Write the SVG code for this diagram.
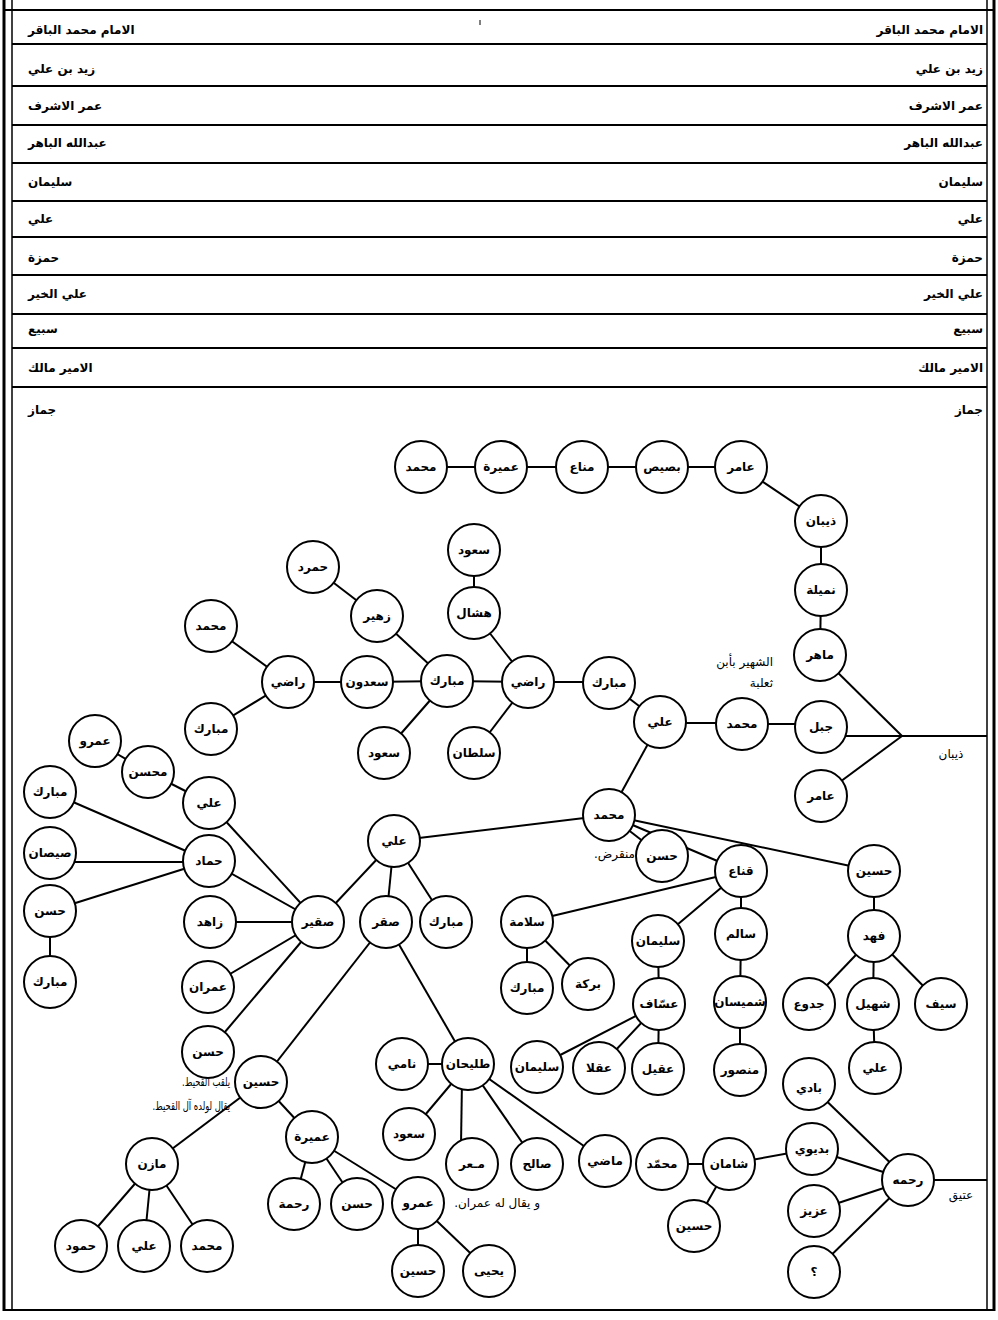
<svg xmlns="http://www.w3.org/2000/svg" width="998" height="1320" viewBox="0 0 998 1320">
<style>
.frame line{stroke:#000;stroke-width:2}
.e line{stroke:#000;stroke-width:2}
.n circle{fill:#fff;stroke:#000;stroke-width:2}
.n text{font-family:"DejaVu Sans",sans-serif;font-size:12px;font-weight:bold;text-anchor:middle;direction:rtl}
.row{font-family:"DejaVu Sans",sans-serif;font-size:12px;font-weight:bold;direction:rtl}
.rl{text-anchor:end}
.rr{text-anchor:start}
.lbl{font-family:"DejaVu Sans",sans-serif;font-size:12px;direction:rtl;text-anchor:start}
.lblc{font-family:"DejaVu Sans",sans-serif;font-size:12px;direction:rtl;text-anchor:middle}
</style>
<rect width="998" height="1320" fill="#fff"/>
<g class="frame">
<line x1="4" y1="0" x2="4" y2="1311" style="stroke-width:3"/>
<line x1="12" y1="0" x2="12" y2="1311" style="stroke-width:1.5"/>
<line x1="987" y1="0" x2="987" y2="1311" style="stroke-width:1.5"/>
<line x1="994" y1="0" x2="994" y2="1311" style="stroke-width:3"/>
<line x1="4" y1="10" x2="994" y2="10"/>
<line x1="12" y1="44" x2="987" y2="44"/>
<line x1="12" y1="86" x2="987" y2="86"/>
<line x1="12" y1="125" x2="987" y2="125"/>
<line x1="12" y1="163" x2="987" y2="163"/>
<line x1="12" y1="201" x2="987" y2="201"/>
<line x1="12" y1="237" x2="987" y2="237"/>
<line x1="12" y1="275" x2="987" y2="275"/>
<line x1="12" y1="314" x2="987" y2="314"/>
<line x1="12" y1="348" x2="987" y2="348"/>
<line x1="12" y1="387" x2="987" y2="387"/>
<line x1="4" y1="1310" x2="994" y2="1310"/>
<line x1="480" y1="20" x2="480" y2="25" style="stroke-width:1"/>
</g>
<g id="rows">
<text class="row rl" x="28" y="34">الامام محمد الباقر</text>
<text class="row rr" x="983" y="34">الامام محمد الباقر</text>
<text class="row rl" x="28" y="73">زيد بن علي</text>
<text class="row rr" x="983" y="73">زيد بن علي</text>
<text class="row rl" x="28" y="110">عمر الاشرف</text>
<text class="row rr" x="983" y="110">عمر الاشرف</text>
<text class="row rl" x="28" y="147">عبدالله الباهر</text>
<text class="row rr" x="983" y="147">عبدالله الباهر</text>
<text class="row rl" x="28" y="186">سليمان</text>
<text class="row rr" x="983" y="186">سليمان</text>
<text class="row rl" x="28" y="223">علي</text>
<text class="row rr" x="983" y="223">علي</text>
<text class="row rl" x="28" y="262">حمزة</text>
<text class="row rr" x="983" y="262">حمزة</text>
<text class="row rl" x="28" y="298">علي الخير</text>
<text class="row rr" x="983" y="298">علي الخير</text>
<text class="row rl" x="28" y="333">سبيع</text>
<text class="row rr" x="983" y="333">سبيع</text>
<text class="row rl" x="28" y="372">الامير مالك</text>
<text class="row rr" x="983" y="372">الامير مالك</text>
<text class="row rl" x="28" y="414">جماز</text>
<text class="row rr" x="983" y="414">جماز</text>
</g>
<g id="connectors" class="e">
<line x1="421" y1="467" x2="501" y2="467"/>
<line x1="501" y1="467" x2="582" y2="467"/>
<line x1="582" y1="467" x2="662" y2="467"/>
<line x1="662" y1="467" x2="741" y2="467"/>
<line x1="741" y1="467" x2="821" y2="521"/>
<line x1="821" y1="521" x2="821" y2="590"/>
<line x1="821" y1="590" x2="820" y2="655"/>
<line x1="820" y1="655" x2="902" y2="736"/>
<line x1="830" y1="736" x2="987" y2="736"/>
<line x1="821" y1="796" x2="902" y2="736"/>
<line x1="742" y1="724" x2="821" y2="724"/>
<line x1="660" y1="723" x2="742" y2="723"/>
<line x1="609" y1="683" x2="660" y2="722"/>
<line x1="528" y1="682" x2="609" y2="682"/>
<line x1="447" y1="681" x2="528" y2="682"/>
<line x1="367" y1="682" x2="447" y2="681"/>
<line x1="288" y1="682" x2="367" y2="682"/>
<line x1="211" y1="626" x2="288" y2="682"/>
<line x1="211" y1="729" x2="288" y2="682"/>
<line x1="447" y1="681" x2="377" y2="616"/>
<line x1="377" y1="616" x2="313" y2="567"/>
<line x1="447" y1="681" x2="384" y2="753"/>
<line x1="528" y1="682" x2="474" y2="613"/>
<line x1="474" y1="613" x2="474" y2="550"/>
<line x1="528" y1="682" x2="474" y2="753"/>
<line x1="660" y1="722" x2="609" y2="815"/>
<line x1="609" y1="815" x2="394" y2="841"/>
<line x1="609" y1="815" x2="662" y2="856"/>
<line x1="609" y1="815" x2="741" y2="871"/>
<line x1="609" y1="815" x2="874" y2="871"/>
<line x1="741" y1="871" x2="527" y2="922"/>
<line x1="741" y1="871" x2="658" y2="941"/>
<line x1="741" y1="871" x2="741" y2="934"/>
<line x1="527" y1="922" x2="527" y2="988"/>
<line x1="527" y1="922" x2="588" y2="984"/>
<line x1="658" y1="941" x2="659" y2="1004"/>
<line x1="659" y1="1004" x2="537" y2="1067"/>
<line x1="659" y1="1004" x2="599" y2="1068"/>
<line x1="659" y1="1004" x2="658" y2="1069"/>
<line x1="741" y1="934" x2="740" y2="1002"/>
<line x1="740" y1="1002" x2="740" y2="1070"/>
<line x1="874" y1="871" x2="874" y2="936"/>
<line x1="874" y1="936" x2="809" y2="1004"/>
<line x1="874" y1="936" x2="873" y2="1004"/>
<line x1="874" y1="936" x2="941" y2="1004"/>
<line x1="873" y1="1004" x2="875" y2="1068"/>
<line x1="394" y1="841" x2="318" y2="922"/>
<line x1="394" y1="841" x2="386" y2="922"/>
<line x1="394" y1="841" x2="446" y2="922"/>
<line x1="318" y1="922" x2="209" y2="803"/>
<line x1="209" y1="803" x2="148" y2="772"/>
<line x1="148" y1="772" x2="95" y2="741"/>
<line x1="318" y1="922" x2="209" y2="861"/>
<line x1="209" y1="861" x2="50" y2="792"/>
<line x1="60" y1="862" x2="209" y2="862"/>
<line x1="209" y1="861" x2="50" y2="911"/>
<line x1="50" y1="911" x2="50" y2="982"/>
<line x1="318" y1="922" x2="210" y2="922"/>
<line x1="318" y1="922" x2="208" y2="987"/>
<line x1="318" y1="922" x2="208" y2="1052"/>
<line x1="386" y1="922" x2="261" y2="1082"/>
<line x1="386" y1="922" x2="468" y2="1064"/>
<line x1="261" y1="1082" x2="152" y2="1164"/>
<line x1="152" y1="1164" x2="81" y2="1246"/>
<line x1="152" y1="1164" x2="144" y2="1246"/>
<line x1="152" y1="1164" x2="207" y2="1246"/>
<line x1="261" y1="1082" x2="312" y2="1137"/>
<line x1="312" y1="1137" x2="294" y2="1204"/>
<line x1="312" y1="1137" x2="357" y2="1204"/>
<line x1="312" y1="1137" x2="418" y2="1203"/>
<line x1="418" y1="1203" x2="418" y2="1271"/>
<line x1="418" y1="1203" x2="489" y2="1271"/>
<line x1="468" y1="1064" x2="402" y2="1064"/>
<line x1="468" y1="1064" x2="409" y2="1134"/>
<line x1="462" y1="1080" x2="461" y2="1145"/>
<line x1="468" y1="1064" x2="537" y2="1164"/>
<line x1="468" y1="1064" x2="605" y2="1161"/>
<line x1="908" y1="1180" x2="809" y2="1084"/>
<line x1="908" y1="1180" x2="812" y2="1149"/>
<line x1="908" y1="1180" x2="814" y2="1211"/>
<line x1="908" y1="1180" x2="814" y2="1272"/>
<line x1="908" y1="1180" x2="987" y2="1180"/>
<line x1="812" y1="1149" x2="729" y2="1164"/>
<line x1="729" y1="1164" x2="662" y2="1164"/>
<line x1="729" y1="1164" x2="694" y2="1226"/>
</g>
<g id="labels">
<text class="lblc" x="951" y="758">ذيبان</text>
<text class="lblc" x="961" y="1199">عتيق</text>
<text class="lbl" x="773" y="666">الشهير بأبن</text>
<text class="lbl" x="773" y="687">ثعلبة</text>
<text class="lbl" x="635" y="858">منقرض.</text>
<text class="lbl" transform="translate(230,1086) scale(0.7,1)">يلقب القحيط.</text>
<text class="lbl" transform="translate(230,1110) scale(0.7,1)">يقال لولده آل القحيط.</text>
<text class="lbl" x="540" y="1207">و يقال له عمران.</text>
</g>
<g id="n_muhammad_top" class="n" transform="translate(421,467)"><circle r="26"/><text y="4">محمد</text></g>
<g id="n_umaira_top" class="n" transform="translate(501,467)"><circle r="26"/><text y="4">عميرة</text></g>
<g id="n_manna" class="n" transform="translate(582,467)"><circle r="26"/><text y="4">مناع</text></g>
<g id="n_busais" class="n" transform="translate(662,467)"><circle r="26"/><text y="4">بصيص</text></g>
<g id="n_amer_top" class="n" transform="translate(741,467)"><circle r="26"/><text y="4">عامر</text></g>
<g id="n_dhiban" class="n" transform="translate(821,521)"><circle r="26"/><text y="4">ذيبان</text></g>
<g id="n_numaila" class="n" transform="translate(821,590)"><circle r="26"/><text y="4">نميلة</text></g>
<g id="n_maher" class="n" transform="translate(820,655)"><circle r="26"/><text y="4">ماهر</text></g>
<g id="n_jabal" class="n" transform="translate(821,727)"><circle r="26"/><text y="4">جبل</text></g>
<g id="n_amer2" class="n" transform="translate(821,796)"><circle r="26"/><text y="4">عامر</text></g>
<g id="n_muhammad_thalaba" class="n" transform="translate(742,724)"><circle r="26"/><text y="4">محمد</text></g>
<g id="n_ali1" class="n" transform="translate(660,722)"><circle r="26"/><text y="4">علي</text></g>
<g id="n_mubarak1" class="n" transform="translate(609,683)"><circle r="26"/><text y="4">مبارك</text></g>
<g id="n_radi1" class="n" transform="translate(528,682)"><circle r="26"/><text y="4">راضي</text></g>
<g id="n_hashal" class="n" transform="translate(474,613)"><circle r="26"/><text y="4">هشال</text></g>
<g id="n_saud1" class="n" transform="translate(474,550)"><circle r="26"/><text y="4">سعود</text></g>
<g id="n_sultan" class="n" transform="translate(474,753)"><circle r="26"/><text y="4">سلطان</text></g>
<g id="n_mubarak2" class="n" transform="translate(447,681)"><circle r="26"/><text y="4">مبارك</text></g>
<g id="n_zuhair" class="n" transform="translate(377,616)"><circle r="26"/><text y="4">زهير</text></g>
<g id="n_hamrad" class="n" transform="translate(313,567)"><circle r="26"/><text y="4">حمرد</text></g>
<g id="n_saud2" class="n" transform="translate(384,753)"><circle r="26"/><text y="4">سعود</text></g>
<g id="n_saadun" class="n" transform="translate(367,682)"><circle r="26"/><text y="4">سعدون</text></g>
<g id="n_radi2" class="n" transform="translate(288,682)"><circle r="26"/><text y="4">راضي</text></g>
<g id="n_muhammad2" class="n" transform="translate(211,626)"><circle r="26"/><text y="4">محمد</text></g>
<g id="n_mubarak3" class="n" transform="translate(211,729)"><circle r="26"/><text y="4">مبارك</text></g>
<g id="n_muhammad3" class="n" transform="translate(609,815)"><circle r="26"/><text y="4">محمد</text></g>
<g id="n_ali2" class="n" transform="translate(394,841)"><circle r="26"/><text y="4">علي</text></g>
<g id="n_hasan1" class="n" transform="translate(662,856)"><circle r="26"/><text y="4">حسن</text></g>
<g id="n_qanna" class="n" transform="translate(741,871)"><circle r="26"/><text y="4">قناع</text></g>
<g id="n_husain1" class="n" transform="translate(874,871)"><circle r="26"/><text y="4">حسين</text></g>
<g id="n_sulaiman1" class="n" transform="translate(658,941)"><circle r="26"/><text y="4">سليمان</text></g>
<g id="n_salem" class="n" transform="translate(741,934)"><circle r="26"/><text y="4">سالم</text></g>
<g id="n_fahd" class="n" transform="translate(874,936)"><circle r="26"/><text y="4">فهد</text></g>
<g id="n_assaf" class="n" transform="translate(659,1004)"><circle r="26"/><text y="4">عسّاف</text></g>
<g id="n_shumaisan" class="n" transform="translate(740,1002)"><circle r="26"/><text y="4">شميسان</text></g>
<g id="n_mansour" class="n" transform="translate(740,1070)"><circle r="26"/><text y="4">منصور</text></g>
<g id="n_jadwa" class="n" transform="translate(809,1004)"><circle r="26"/><text y="4">جدوع</text></g>
<g id="n_shuhail" class="n" transform="translate(873,1004)"><circle r="26"/><text y="4">شهيل</text></g>
<g id="n_saif" class="n" transform="translate(941,1004)"><circle r="26"/><text y="4">سيف</text></g>
<g id="n_ali3" class="n" transform="translate(875,1068)"><circle r="26"/><text y="4">علي</text></g>
<g id="n_aqil" class="n" transform="translate(658,1069)"><circle r="26"/><text y="4">عقيل</text></g>
<g id="n_aqla" class="n" transform="translate(599,1068)"><circle r="26"/><text y="4">عقلا</text></g>
<g id="n_sulaiman2" class="n" transform="translate(537,1067)"><circle r="26"/><text y="4">سليمان</text></g>
<g id="n_salama" class="n" transform="translate(527,922)"><circle r="26"/><text y="4">سلامة</text></g>
<g id="n_mubarak4" class="n" transform="translate(527,988)"><circle r="26"/><text y="4">مبارك</text></g>
<g id="n_baraka" class="n" transform="translate(588,984)"><circle r="26"/><text y="4">بركة</text></g>
<g id="n_saqr" class="n" transform="translate(386,922)"><circle r="26"/><text y="4">صقر</text></g>
<g id="n_mubarak5" class="n" transform="translate(446,922)"><circle r="26"/><text y="4">مبارك</text></g>
<g id="n_suqair" class="n" transform="translate(318,922)"><circle r="26"/><text y="4">صقير</text></g>
<g id="n_ali4" class="n" transform="translate(209,803)"><circle r="26"/><text y="4">علي</text></g>
<g id="n_muhsin" class="n" transform="translate(148,772)"><circle r="26"/><text y="4">محسن</text></g>
<g id="n_amr1" class="n" transform="translate(95,741)"><circle r="26"/><text y="4">عمرو</text></g>
<g id="n_hammad" class="n" transform="translate(209,861)"><circle r="26"/><text y="4">حماد</text></g>
<g id="n_mubarak6" class="n" transform="translate(50,792)"><circle r="26"/><text y="4">مبارك</text></g>
<g id="n_saisan" class="n" transform="translate(50,853)"><circle r="26"/><text y="4">صيصان</text></g>
<g id="n_hasan2" class="n" transform="translate(50,911)"><circle r="26"/><text y="4">حسن</text></g>
<g id="n_mubarak7" class="n" transform="translate(50,982)"><circle r="26"/><text y="4">مبارك</text></g>
<g id="n_zahid" class="n" transform="translate(210,922)"><circle r="26"/><text y="4">زاهد</text></g>
<g id="n_imran" class="n" transform="translate(208,987)"><circle r="26"/><text y="4">عمران</text></g>
<g id="n_hasan3" class="n" transform="translate(208,1052)"><circle r="26"/><text y="4">حسن</text></g>
<g id="n_husain2" class="n" transform="translate(261,1082)"><circle r="26"/><text y="4">حسين</text></g>
<g id="n_mazin" class="n" transform="translate(152,1164)"><circle r="26"/><text y="4">مازن</text></g>
<g id="n_hamud" class="n" transform="translate(81,1246)"><circle r="26"/><text y="4">حمود</text></g>
<g id="n_ali5" class="n" transform="translate(144,1246)"><circle r="26"/><text y="4">علي</text></g>
<g id="n_muhammad4" class="n" transform="translate(207,1246)"><circle r="26"/><text y="4">محمد</text></g>
<g id="n_umaira2" class="n" transform="translate(312,1137)"><circle r="26"/><text y="4">عميرة</text></g>
<g id="n_rahma" class="n" transform="translate(294,1204)"><circle r="26"/><text y="4">رحمة</text></g>
<g id="n_hasan4" class="n" transform="translate(357,1204)"><circle r="26"/><text y="4">حسن</text></g>
<g id="n_amr2" class="n" transform="translate(418,1203)"><circle r="26"/><text y="4">عمرو</text></g>
<g id="n_husain3" class="n" transform="translate(418,1271)"><circle r="26"/><text y="4">حسين</text></g>
<g id="n_yahya" class="n" transform="translate(489,1271)"><circle r="26"/><text y="4">يحيى</text></g>
<g id="n_tulaihan" class="n" transform="translate(468,1064)"><circle r="26"/><text y="4">طليحان</text></g>
<g id="n_nami" class="n" transform="translate(402,1064)"><circle r="26"/><text y="4">نامي</text></g>
<g id="n_saud3" class="n" transform="translate(409,1134)"><circle r="26"/><text y="4">سعود</text></g>
<g id="n_muammar" class="n" transform="translate(472,1164)"><circle r="26"/><text y="4">مـعر</text></g>
<g id="n_salih" class="n" transform="translate(537,1164)"><circle r="26"/><text y="4">صالح</text></g>
<g id="n_madi" class="n" transform="translate(605,1161)"><circle r="26"/><text y="4">ماضي</text></g>
<g id="n_badi" class="n" transform="translate(809,1084)"><circle r="26"/><text y="8">بادي</text></g>
<g id="n_badiwi" class="n" transform="translate(812,1149)"><circle r="26"/><text y="4">بديوي</text></g>
<g id="n_rahmah" class="n" transform="translate(908,1180)"><circle r="26"/><text y="4">رحمه</text></g>
<g id="n_aziz" class="n" transform="translate(814,1211)"><circle r="26"/><text y="4">عزيز</text></g>
<g id="n_unknown" class="n" transform="translate(814,1272)"><circle r="26"/><text y="4">؟</text></g>
<g id="n_shaman" class="n" transform="translate(729,1164)"><circle r="26"/><text y="4">شامان</text></g>
<g id="n_muhammad5" class="n" transform="translate(662,1164)"><circle r="26"/><text y="4">محمّد</text></g>
<g id="n_husain4" class="n" transform="translate(694,1226)"><circle r="26"/><text y="4">حسين</text></g>
</svg>
